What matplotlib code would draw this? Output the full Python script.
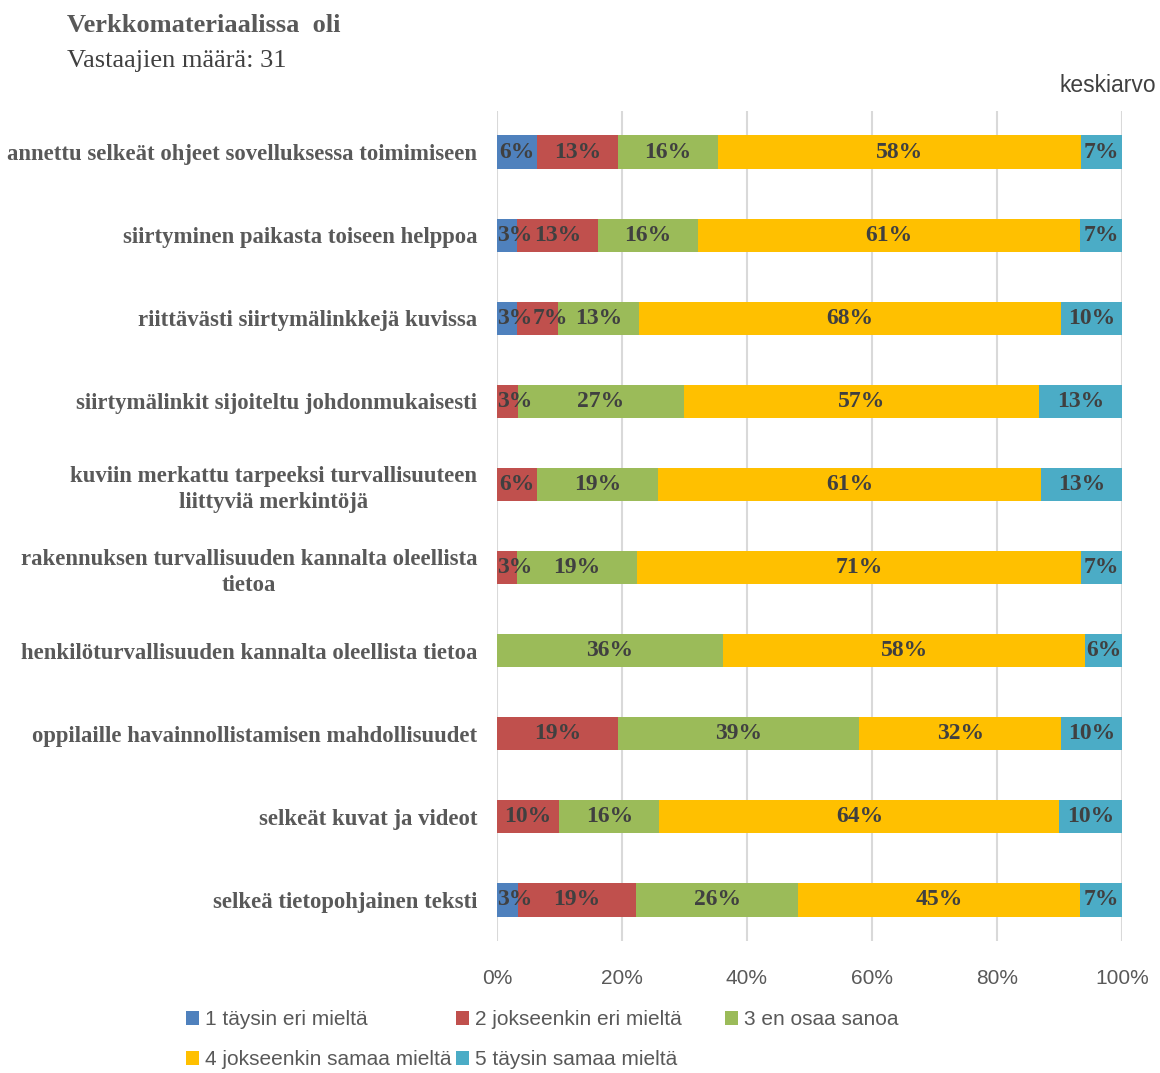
import numpy as np
import matplotlib.pyplot as plt
from matplotlib.legend import Legend

# kysymykset (ylhäältä alas)
categories = [
    'annettu selkeät ohjeet sovelluksessa toimimiseen',
    'siirtyminen paikasta toiseen helppoa',
    'riittävästi siirtymälinkkejä kuvissa',
    'siirtymälinkit sijoiteltu johdonmukaisesti',
    'kuviin merkattu tarpeeksi turvallisuuteen\nliittyviä merkintöjä',
    'rakennuksen turvallisuuden kannalta oleellista\ntietoa',
    'henkilöturvallisuuden kannalta oleellista tietoa',
    'oppilaille havainnollistamisen mahdollisuudet',
    'selkeät kuvat ja videot',
    'selkeä tietopohjainen teksti',
]

series_names = ['1 täysin eri mieltä', '2 jokseenkin eri mieltä', '3 en osaa sanoa',
                '4 jokseenkin samaa mieltä', '5 täysin samaa mieltä']

# prosentit
s1 = [6.4, 3.2, 3.2, 0, 0, 0, 0, 0, 0, 3.3]
s2 = [12.9, 12.9, 6.6, 3.3, 6.4, 3.2, 0, 19.3, 10.0, 19.0]
s3 = [16.1, 16.1, 12.9, 26.7, 19.4, 19.2, 36.2, 38.7, 16.0, 25.9]
s4 = [58.0, 61.1, 67.6, 56.7, 61.3, 71.0, 57.9, 32.3, 64.0, 45.1]
s5 = [6.6, 6.7, 9.7, 13.3, 12.9, 6.6, 5.9, 9.7, 10.0, 6.7]

colors = ['#4F81BD', '#C0504D', '#9BBB59', '#FFC000', '#4BACC6']

fig = plt.figure(figsize=(11.6, 10.73), dpi=100)
ax = fig.add_axes([0.4284, 0.1226, 0.5388, 0.7744])

y = np.arange(len(categories))
left = np.zeros(len(categories))
handles = []
row_labels = [[] for _ in categories]
for vals, name, c in zip([s1, s2, s3, s4, s5], series_names, colors):
    vals = np.array(vals, dtype=float)
    b = ax.barh(y, vals, left=left, height=0.4, color=c, label=name)
    handles.append(b)
    for yi, l, v in zip(y, left, vals):
        if v <= 0:
            continue
        t = ax.text(l + v / 2, yi, f'{v:.0f}%', ha='center', va='center',
                    fontsize=17, fontweight='bold', family='Liberation Serif',
                    color='#404040')
        row_labels[yi].append(t)
    left += vals

ax.set_xlim(0, 100)
ax.set_ylim(len(categories) - 0.5, -0.5)
ax.set_xticks(np.arange(0, 101, 20))
ax.set_xticklabels([f'{t}%' for t in range(0, 101, 20)],
                   fontsize=15, family='Liberation Sans', color='#595959')
ax.set_yticks(y)
ax.set_yticklabels(categories, fontsize=16.4, fontweight='bold',
                   family='Liberation Serif', color='#595959',
                   multialignment='center', linespacing=1.3)
ax.tick_params(axis='both', length=0)
ax.tick_params(axis='x', pad=20)
ax.tick_params(axis='y', pad=14)
ax.grid(axis='x', color='#D9D9D9', linewidth=1.5)
ax.set_axisbelow(True)
for sp in ax.spines.values():
    sp.set_visible(False)

# pienet osuudet: siirretään tekstit niin etteivät mene päällekkäin
fig.canvas.draw()
r = fig.canvas.get_renderer()
x_left_px = ax.transData.transform((0, 0))[0]
for labels in row_labels:
    prev_right = x_left_px
    for t in labels:
        bb = t.get_window_extent(r)
        shift = max(0, prev_right - bb.x0)
        if shift > 0:
            xd, yd = t.get_position()
            xpx = ax.transData.transform((xd, yd))[0] + shift
            t.set_x(ax.transData.inverted().transform((xpx, 0))[0])
        prev_right = bb.x1 + shift

fig.text(67 / 1160, 1 - 25 / 1073, 'Verkkomateriaalissa  oli', fontsize=19,
         fontweight='bold', family='Liberation Serif', color='#595959',
         ha='left', va='center')
fig.text(67 / 1160, 1 - 61 / 1073, 'Vastaajien määrä: 31', fontsize=19,
         family='Liberation Serif', color='#404040', ha='left', va='center')
fig.text(1156 / 1160, 1 - 85 / 1073, 'keskiarvo', fontsize=16.5,
         family='Liberation Sans', color='#404040', ha='right', va='center')

# legenda: kolme saraketta omina legendoinaan
cols = [([0, 3], 176), ([1, 4], 446), ([2], 715)]
for idx, xpx in cols:
    leg = Legend(fig, [handles[i] for i in idx], [series_names[i] for i in idx],
                 loc='upper left', bbox_to_anchor=(xpx / 1160, 1 - 1000 / 1073),
                 frameon=False, prop={'family': 'Liberation Sans', 'size': 15},
                 handlelength=0.6, handleheight=0.6, handletextpad=0.3,
                 labelspacing=1.0, borderpad=0, labelcolor='#595959')
    fig.add_artist(leg)

fig.savefig('out.png', dpi=100)
